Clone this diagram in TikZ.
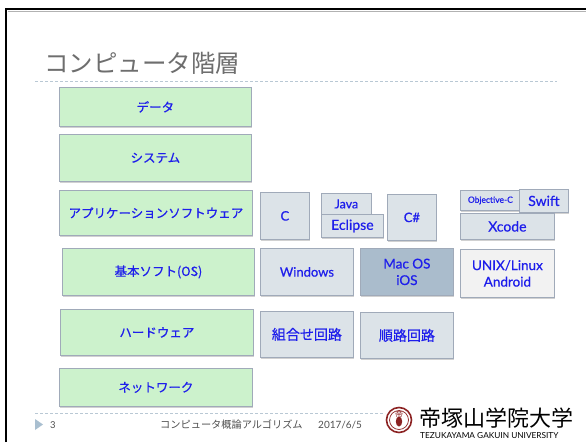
\documentclass[tikz,border=0pt]{standalone}
\usepackage{fontspec}
\setmainfont{Lato}[FakeBold=0.6]
\newfontfamily\latin{Lato}
\newfontfamily\jp{Noto Sans CJK JP}
\newfontfamily\jpm{Noto Sans CJK JP}[FakeBold=0.6]
\usetikzlibrary{shadows}
\definecolor{greenfill}{RGB}{204,242,204}
\definecolor{grayfill}{RGB}{220,227,232}
\definecolor{macfill}{RGB}{170,188,204}
\definecolor{unixfill}{RGB}{242,242,242}
\definecolor{bordercol}{RGB}{160,170,185}
\definecolor{txtblue}{RGB}{30,30,235}
\definecolor{dashcol}{RGB}{185,200,212}
\definecolor{titlegray}{RGB}{110,110,110}
\definecolor{footgray}{RGB}{80,80,80}
\definecolor{tri}{RGB}{169,191,208}
\definecolor{logored}{RGB}{140,35,35}
\tikzset{
  basebox/.style={draw=bordercol, line width=0.8pt, anchor=north west, inner sep=0pt,
    text=txtblue, align=center,
    drop shadow={shadow xshift=0.5pt, shadow yshift=-2pt, opacity=0.45, fill=gray!80}},
  gbox/.style={basebox, fill=greenfill, font=\jpm\fontsize{12.5}{15}\selectfont},
  sbox/.style={basebox, fill=grayfill, font=\fontsize{13}{15}\selectfont},
  dline/.style={draw=dashcol, line width=0.8pt, dash pattern=on 3pt off 2pt},
}
\begin{document}
\begin{tikzpicture}[x=1pt,y=-1pt]
\fill[white] (0,0) rectangle (586,442);
\useasboundingbox (0,0) rectangle (586,442);
% frame
\draw[gray!60, line width=1pt] (8,11) -- (586,11);
\draw[black, line width=2.5pt] (6,442) -- (6,9) -- (586,9);
% title
\node[anchor=base west, inner sep=0pt, text=titlegray, font=\jp\fontsize{24.5}{28}\selectfont] (title) at (44,72) {コンピュータ階層};
\coordinate (t1) at (35,81);
\coordinate (t2) at (557,81);
\draw[dline] (t1) -- (t2);
% green boxes
\node[gbox, minimum width=192pt, minimum height=39pt] (data) at (59,87) {データ};
\node[gbox, minimum width=192pt, minimum height=47pt] (sys) at (59,134) {システム};
\node[gbox, minimum width=193pt, minimum height=45pt] (app) at (59,190) {アプリケーションソフトウェア};
\node[gbox, minimum width=192pt, minimum height=47pt] (os) at (62,248) {基本ソフト(OS)};
\node[gbox, minimum width=193pt, minimum height=46pt] (hw) at (60,309) {ハードウェア};
\node[gbox, minimum width=193pt, minimum height=38pt] (net) at (59,368) {ネットワーク};
% application row
\node[sbox, minimum width=49pt, minimum height=47pt] (c) at (260,192) {C};
\node[sbox, minimum width=50pt, minimum height=21pt, font=\fontsize{12.5}{14}\selectfont] (java) at (321,193) {Java};
\node[sbox, minimum width=62pt, minimum height=23pt, font=\fontsize{14}{15}\selectfont] (eclipse) at (321,214) {Eclipse};
\node[sbox, minimum width=49pt, minimum height=46pt] (cs) at (387,194) {C\#};
\node[sbox, minimum width=60pt, minimum height=20pt, font=\fontsize{8.5}{10}\selectfont] (objc) at (460,190) {Objective-C};
\node[sbox, minimum width=49pt, minimum height=23pt, font=\fontsize{14}{15}\selectfont] (swift) at (519,189) {Swift};
\node[sbox, minimum width=94pt, minimum height=26pt, font=\fontsize{14}{15}\selectfont] (xcode) at (460,213) {Xcode};
% OS row
\node[sbox, minimum width=93pt, minimum height=47pt] (win) at (260,248) {Windows};
\node[sbox, fill=macfill, minimum width=93pt, minimum height=47pt, font=\fontsize{13.5}{16.5}\selectfont] (mac) at (360,248) {Mac OS\\iOS};
\node[sbox, fill=unixfill, minimum width=94pt, minimum height=48pt, font=\fontsize{13.5}{16.5}\selectfont] (unix) at (460,249) {UNIX/Linux\\Android};
% hardware row
\node[sbox, minimum width=93pt, minimum height=46pt, font=\jpm\fontsize{14}{16}\selectfont] (comb) at (260,311) {組合せ回路};
\node[sbox, minimum width=93pt, minimum height=46pt, font=\jpm\fontsize{14}{16}\selectfont] (seq) at (360,312) {順路回路};
% footer
\coordinate (f1) at (35,413);
\coordinate (f2) at (385,413);
\draw[dline] (f1) -- (f2);
\fill[tri] (35,419) -- (43,424.5) -- (35,430) -- cycle;
\node[anchor=base west, inner sep=0pt, text=footgray, font=\latin\fontsize{9.5}{11}\selectfont] (pg) at (50,428) {3};
\node[anchor=base west, inner sep=0pt, text=footgray, font=\jp\fontsize{10.2}{11}\selectfont] (ft) at (160,428) {コンピュータ概論アルゴリズム};
\node[anchor=base west, inner sep=0pt, text=footgray, font=\latin\fontsize{10}{11}\selectfont] (dt) at (318,428) {2017/6/5};
% logo
\draw[logored, line width=1.6pt] (399,420) circle (12.5pt);
\draw[logored, line width=0.7pt] (399,420) circle (9.5pt);
\node[text=logored, inner sep=0pt, font=\jp\fontsize{8}{8}\selectfont] (emb) at (399,414) {帝};
\fill[logored] (399,421.5) ellipse (3.2pt and 5pt);
\node[anchor=base west, inner sep=0pt, text=black, font=\jp\fontsize{22}{24}\selectfont] (uni) at (419,426) {帝塚山学院大学};
\node[anchor=base west, inner sep=0pt, text=black, font=\latin\fontsize{8.3}{9}\selectfont] (unien) at (420,438) {TEZUKAYAMA GAKUIN UNIVERSITY};
\end{tikzpicture}
\end{document}
